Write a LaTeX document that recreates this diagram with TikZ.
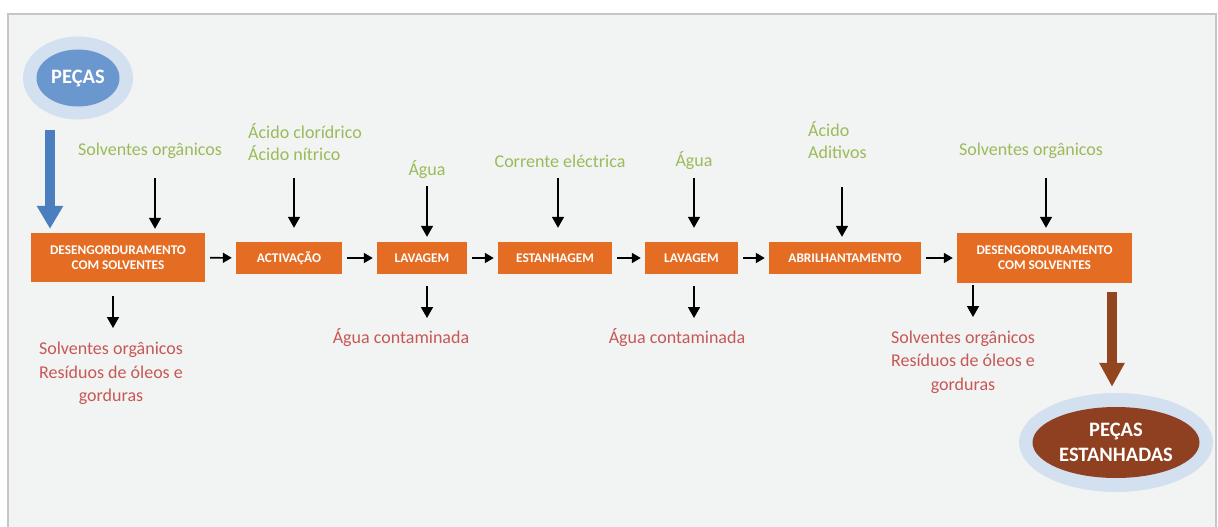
\documentclass[tikz,border=0pt]{standalone}
\usepackage{fontspec}
\setmainfont{Carlito}
\usetikzlibrary{arrows.meta,shapes.geometric}
\definecolor{panel}{HTML}{F2F3F3}
\definecolor{frame}{HTML}{C6C6C6}
\definecolor{procorange}{HTML}{E46C23}
\definecolor{ingreen}{HTML}{9BBB59}
\definecolor{outred}{HTML}{C65856}
\definecolor{halo}{HTML}{D3E0F0}
\definecolor{startblue}{HTML}{6B97CF}
\definecolor{flowblue}{HTML}{4A7EBF}
\definecolor{endbrown}{HTML}{8F4020}
\definecolor{flowbrown}{HTML}{924620}
\tikzset{
  procbox/.style={rectangle, fill=procorange, text=white, align=center,
    font=\bfseries\fontsize{13.3}{15}\selectfont, inner sep=0pt},
  inlabel/.style={text=ingreen, font=\fontsize{18}{22}\selectfont, inner sep=0pt},
  outlabel/.style={text=outred, font=\fontsize{18}{23.5}\selectfont, inner sep=0pt, align=center},
  flow/.style={line width=1.6pt, -{Triangle[length=11pt,width=12pt]}},
  hflow/.style={line width=1.6pt, -{Triangle[length=9pt,width=10pt]}, shorten <=5pt, shorten >=4pt},
  haloell/.style={ellipse, fill=halo, inner sep=0pt},
  coreell/.style={ellipse, text=white, align=center, inner sep=0pt,
    font=\bfseries\fontsize{20.5}{25}\selectfont}
}
\begin{document}
\begin{tikzpicture}[x=1pt,y=-1pt]
\useasboundingbox (0,0) rectangle (1218,527);
% panel
\fill[white] (0,0) rectangle (1218,527);
\draw[frame, line width=2pt, fill=panel] (8,14) rectangle (1216,540);

% start and end ellipses
\node[haloell, minimum width=110pt, minimum height=83pt] (starthalo) at (78,78) {};
\node[coreell, fill=startblue, minimum width=83pt, minimum height=57pt] (start) at (78,78) {PEÇAS};
\node[haloell, minimum width=194pt, minimum height=99pt] (endhalo) at (1116,442.5) {};
\node[coreell, fill=endbrown, minimum width=167pt, minimum height=71pt] (end) at (1116,442.5) {PEÇAS\\ESTANHADAS};

% process steps
\node[procbox, minimum width=174pt, minimum height=49pt] (b1) at (118,257.5) {DESENGORDURAMENTO\\COM SOLVENTES};
\node[procbox, minimum width=106pt, minimum height=32pt] (b2) at (289,258) {ACTIVAÇÃO};
\node[procbox, minimum width=90pt, minimum height=32pt] (b3) at (422,258) {LAVAGEM};
\node[procbox, minimum width=114pt, minimum height=32pt] (b4) at (555,258) {ESTANHAGEM};
\node[procbox, minimum width=93pt, minimum height=32pt] (b5) at (691.5,258) {LAVAGEM};
\node[procbox, minimum width=152pt, minimum height=32pt] (b6) at (845,258) {ABRILHANTAMENTO};
\node[procbox, minimum width=175pt, minimum height=50pt] (b7) at (1044.5,258) {DESENGORDURAMENTO\\COM SOLVENTES};

% main flow
\draw[hflow] (b1) -- (b2);
\draw[hflow] (b2) -- (b3);
\draw[hflow] (b3) -- (b4);
\draw[hflow] (b4) -- (b5);
\draw[hflow] (b5) -- (b6);
\draw[hflow] (b6) -- (b7);

% parts in and out
\coordinate (blueTop) at (50,130);
\draw[flowblue, line width=10pt, -{Triangle[length=23pt,width=25pt]}, shorten >=4pt]
  (blueTop) -- (blueTop |- b1.north);
\coordinate (brownX) at (1112,0);
\draw[flowbrown, line width=10pt, -{Triangle[length=24pt,width=24pt]}, shorten <=9pt, shorten >=6pt]
  (brownX |- b7.south) -- (brownX |- endhalo.north);

% inputs
\node[inlabel] (in1) at (150,151) {Solventes orgânicos};
\node[inlabel, align=left, anchor=west] (in2) at (248,142) {Ácido clorídrico\\Ácido nítrico};
\node[inlabel] (in3) at (427,170) {Água};
\node[inlabel] (in4) at (560,161) {Corrente eléctrica};
\node[inlabel] (in5) at (694,161) {Água};
\node[inlabel, align=left, anchor=west] (in6) at (808,140.5) {Ácido\\Aditivos};
\node[inlabel] (in7) at (1031,151) {Solventes orgânicos};

\coordinate (a1) at (155,178);
\coordinate (a2) at (294,178);
\coordinate (a3) at (427,186);
\coordinate (a4) at (558,178);
\coordinate (a5) at (694,178);
\coordinate (a6) at (842,187);
\coordinate (a7) at (1046,178);
\draw[flow, shorten >=4pt] (a1) -- (a1 |- b1.north);
\draw[flow, shorten >=14pt] (a2) -- (a2 |- b2.north);
\draw[flow, shorten >=5pt] (a3) -- (a3 |- b3.north);
\draw[flow, shorten >=14pt] (a4) -- (a4 |- b4.north);
\draw[flow, shorten >=14pt] (a5) -- (a5 |- b5.north);
\draw[flow, shorten >=5pt] (a6) -- (a6 |- b6.north);
\draw[flow, shorten >=5pt] (a7) -- (a7 |- b7.north);

% outputs
\coordinate (o1) at (113,328);
\coordinate (o3) at (427,318);
\coordinate (o5) at (694,318);
\coordinate (o7) at (973,317);
\draw[flow, shorten <=14pt] (o1 |- b1.south) -- (o1);
\draw[flow, shorten <=12pt] (o3 |- b3.south) -- (o3);
\draw[flow, shorten <=12pt] (o5 |- b5.south) -- (o5);
\draw[flow, shorten <=2pt] (o7 |- b7.south) -- (o7);

\node[outlabel] (out1) at (111,373.5) {Solventes orgânicos\\Resíduos de óleos e\\gorduras};
\node[outlabel] (out3) at (401,338) {Água contaminada};
\node[outlabel] (out5) at (677,338) {Água contaminada};
\node[outlabel] (out7) at (963,362) {Solventes orgânicos\\Resíduos de óleos e\\gorduras};
\end{tikzpicture}
\end{document}
